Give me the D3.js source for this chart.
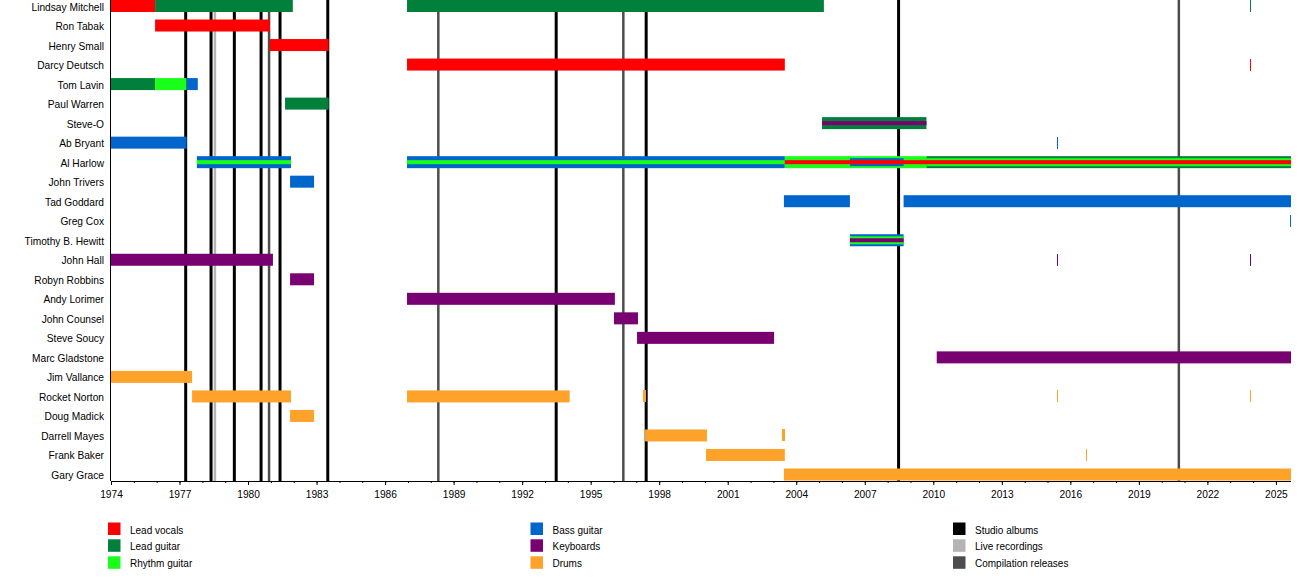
<!DOCTYPE html>
<html><head><meta charset="utf-8">
<script src="https://cdn.jsdelivr.net/npm/d3@7/dist/d3.min.js"></script>
<style>
html,body{margin:0;padding:0;background:#fff;}
svg text{font-family:"Liberation Sans",Arial,sans-serif;fill:#000;}
</style></head>
<body>
<svg id="chart" width="1300" height="580"></svg>
<script>
// ---- Data ----
const members = ["Lindsay Mitchell","Ron Tabak","Henry Small","Darcy Deutsch","Tom Lavin","Paul Warren","Steve-O","Ab Bryant","Al Harlow","John Trivers","Tad Goddard","Greg Cox","Timothy B. Hewitt","John Hall","Robyn Robbins","Andy Lorimer","John Counsel","Steve Soucy","Marc Gladstone","Jim Vallance","Rocket Norton","Doug Madick","Darrell Mayes","Frank Baker","Gary Grace"];

const roles = ["Lead vocals","Lead guitar","Rhythm guitar","Bass guitar","Keyboards","Drums"];
const roleColors = ["#ff0000","#00803a","#1aff1a","#0066cc","#780070","#ffa22a"];

const releaseTypes = ["Studio albums","Live recordings","Compilation releases"];
const releaseColors = ["#000000","#b4b4b4","#4d4d4d"];

// [member, role, start, end, layer (0 = main role, 1 = second, 2 = third)]
const tenures = [
  ["Lindsay Mitchell","Lead vocals",1974,1975.93,0],
  ["Lindsay Mitchell","Lead guitar",1975.93,1981.96,0],
  ["Lindsay Mitchell","Lead guitar",1986.96,2005.21,0],
  ["Lindsay Mitchell","Lead guitar",2023.86,2023.9,0],
  ["Ron Tabak","Lead vocals",1975.93,1980.95,0],
  ["Henry Small","Lead vocals",1980.95,1983.53,0],
  ["Darcy Deutsch","Lead vocals",1986.96,2003.5,0],
  ["Darcy Deutsch","Lead vocals",2023.86,2023.9,0],
  ["Tom Lavin","Lead guitar",1974,1975.93,0],
  ["Tom Lavin","Rhythm guitar",1975.93,1977.31,0],
  ["Tom Lavin","Bass guitar",1977.31,1977.8,0],
  ["Paul Warren","Lead guitar",1981.62,1983.53,0],
  ["Steve-O","Lead guitar",2005.13,2009.7,0],
  ["Steve-O","Keyboards",2005.13,2009.7,2],
  ["Ab Bryant","Bass guitar",1974,1977.31,0],
  ["Ab Bryant","Bass guitar",2015.42,2015.46,0],
  ["Al Harlow","Bass guitar",1977.76,1981.88,0],
  ["Al Harlow","Rhythm guitar",1977.76,1981.88,2],
  ["Al Harlow","Bass guitar",1986.96,2003.5,0],
  ["Al Harlow","Rhythm guitar",1986.96,2003.5,2],
  ["Al Harlow","Rhythm guitar",2003.5,2009.7,0],
  ["Al Harlow","Bass guitar",2006.35,2008.7,1],
  ["Al Harlow","Lead guitar",2009.7,2025.66,0],
  ["Al Harlow","Rhythm guitar",2009.7,2025.66,1],
  ["Al Harlow","Lead vocals",2003.5,2025.66,2],
  ["John Trivers","Bass guitar",1981.84,1982.89,0],
  ["Tad Goddard","Bass guitar",2003.46,2006.35,0],
  ["Tad Goddard","Bass guitar",2008.7,2025.66,0],
  ["Greg Cox","Bass guitar",2025.6,2025.66,0],
  ["Timothy B. Hewitt","Bass guitar",2006.35,2008.7,0],
  ["Timothy B. Hewitt","Rhythm guitar",2006.35,2008.7,1],
  ["Timothy B. Hewitt","Keyboards",2006.35,2008.7,2],
  ["John Hall","Keyboards",1974,1981.09,0],
  ["John Hall","Keyboards",2015.42,2015.46,0],
  ["John Hall","Keyboards",2023.86,2023.9,0],
  ["Robyn Robbins","Keyboards",1981.84,1982.89,0],
  ["Andy Lorimer","Keyboards",1986.96,1996.06,0],
  ["John Counsel","Keyboards",1996.02,1997.07,0],
  ["Steve Soucy","Keyboards",1997.03,2003.03,0],
  ["Marc Gladstone","Keyboards",2010.15,2025.66,0],
  ["Jim Vallance","Drums",1974,1977.55,0],
  ["Rocket Norton","Drums",1977.55,1981.88,0],
  ["Rocket Norton","Drums",1986.96,1994.08,0],
  ["Rocket Norton","Drums",1997.29,1997.42,0],
  ["Rocket Norton","Drums",2015.42,2015.46,0],
  ["Rocket Norton","Drums",2023.86,2023.9,0],
  ["Doug Madick","Drums",1981.84,1982.89,0],
  ["Darrell Mayes","Drums",1997.38,2000.09,0],
  ["Darrell Mayes","Drums",2003.37,2003.5,0],
  ["Frank Baker","Drums",2000.05,2003.5,0],
  ["Frank Baker","Drums",2016.68,2016.72,0],
  ["Gary Grace","Drums",2003.46,2025.66,0]
];

const releaseYears = [1977.27,1978.38,1978.55,1979.40,1980.57,1980.92,1981.40,1983.49,1988.33,1993.49,1996.43,1997.43,2008.48,2020.75];
const releaseKinds = ["Studio albums","Studio albums","Live recordings","Studio albums","Studio albums","Compilation releases","Studio albums","Studio albums","Compilation releases","Studio albums","Compilation releases","Studio albums","Studio albums","Compilation releases"];

const startYear = 1974, endYear = 2025.66;
const majorTicks = d3.range(1974, 2026, 3);
const minorTicks = d3.range(1974, 2026, 1);

// ---- Chart ----
const svg = d3.select("#chart");
const plotLeft = 111, plotRight = 1291, plotTop = 0, axisY = 481;

const x = d3.scaleLinear().domain([startYear, endYear]).range([plotLeft, plotRight]);
const y = d3.scalePoint().domain(members).range([6, 474.5]);
const roleColor = d3.scaleOrdinal().domain(roles).range(roleColors);
const relColor = d3.scaleOrdinal().domain(releaseTypes).range(releaseColors);
const layerH = [12, 8, 4];

// release lines
svg.append("g").selectAll("line")
  .data(releaseYears.map((yr,i)=>({yr, kind: releaseKinds[i]})))
  .join("line")
  .attr("x1", d=>x(d.yr)).attr("x2", d=>x(d.yr))
  .attr("y1", plotTop).attr("y2", axisY)
  .attr("stroke", d=>relColor(d.kind))
  .attr("stroke-width", d=>d.kind==="Studio albums"?3:2.5);

// bars
const bars = tenures.map(t=>({m:t[0], role:t[1], s:t[2], e:t[3], layer:t[4]}))
  .sort((a,b)=>a.layer-b.layer);
svg.append("g").selectAll("rect")
  .data(bars)
  .join("rect")
  .attr("x", d=>x(d.s))
  .attr("width", d=>Math.max(1, x(d.e)-x(d.s)))
  .attr("y", d=>y(d.m)-layerH[d.layer]/2)
  .attr("height", d=>layerH[d.layer])
  .attr("fill", d=>roleColor(d.role))
  .attr("shape-rendering", d=>(x(d.e)-x(d.s))<3 ? "crispEdges" : null);

// member names
svg.append("g").selectAll("text")
  .data(members)
  .join("text")
  .attr("x", 104).attr("y", d=>y(d)+1)
  .attr("text-anchor","end")
  .attr("dominant-baseline","central")
  .style("font-size","10.2px")
  .text(d=>d);

// y axis line
svg.append("line").attr("x1",plotLeft-0.5).attr("x2",plotLeft-0.5).attr("y1",plotTop).attr("y2",axisY)
  .attr("stroke","#000").attr("stroke-width",1);

// x axis minor
svg.append("g").attr("transform",`translate(0,${axisY})`)
  .call(d3.axisBottom(x).tickValues(minorTicks).tickSize(2).tickFormat(""))
  .call(g=>g.select(".domain").remove());
// x axis major
const ax = svg.append("g").attr("transform",`translate(0,${axisY})`)
  .call(d3.axisBottom(x).tickValues(majorTicks).tickSize(4).tickSizeOuter(0).tickPadding(5.5).tickFormat(d3.format("d")));
ax.select(".domain").attr("d", `M${plotLeft},0.5H${plotRight}`);
ax.selectAll("text").style("font-size","10.2px").style("font-family",'"Liberation Sans",Arial,sans-serif');

// legend
const legendItems = roles.map((r,i)=>({label:r, color:roleColors[i]}))
  .concat(releaseTypes.map((r,i)=>({label:r, color:releaseColors[i]})));
const colX = [108, 530.5, 953];
const rowY = [522.5, 539.3, 556.3];
const lg = svg.append("g").selectAll("g")
  .data(legendItems)
  .join("g")
  .attr("transform",(d,i)=>`translate(${colX[Math.floor(i/3)]},${rowY[i%3]})`);
lg.append("rect").attr("width",12.5).attr("height",12.5).attr("fill",d=>d.color);
lg.append("text").attr("x",22).attr("y",7.5).attr("dominant-baseline","central")
  .style("font-size","10px").text(d=>d.label);
</script>
</body></html>
